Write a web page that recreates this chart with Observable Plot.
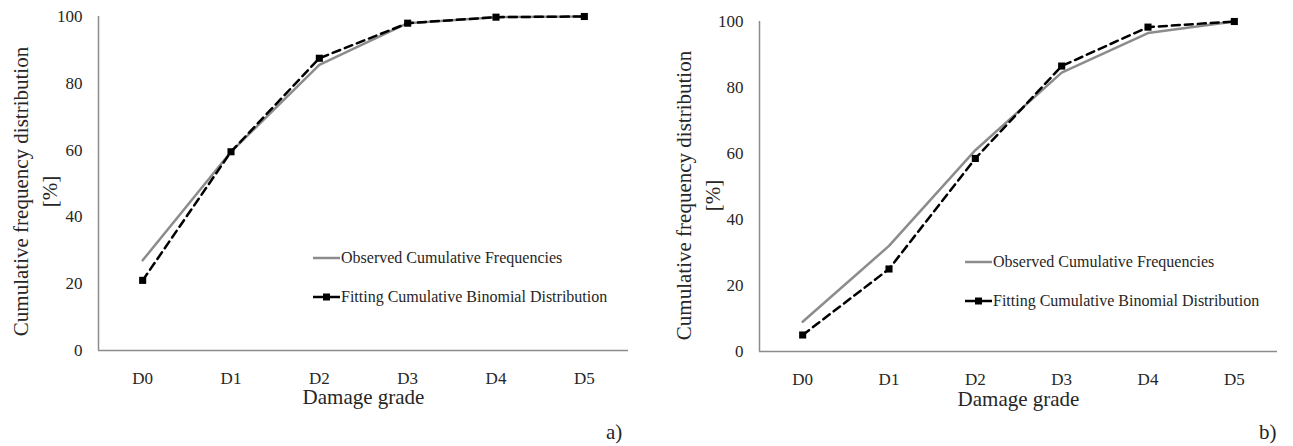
<!DOCTYPE html>
<html><head><meta charset="utf-8">
<script src="https://cdn.jsdelivr.net/npm/d3@7"></script>
<script src="https://cdn.jsdelivr.net/npm/@observablehq/plot@0.6"></script>
<style>
body{margin:0;background:#fff;}
#wrap{position:relative;width:1293px;height:446px;font-family:"Times New Roman","Liberation Serif","DejaVu Serif",serif;color:#262626;overflow:hidden;}
.panel{position:absolute;top:0;}
.leg{position:absolute;font-size:16px;white-space:nowrap;display:flex;align-items:center;height:20px;line-height:20px;}
.leg svg{margin-right:1px;}
.lbl{position:absolute;font-size:21px;line-height:21px;}
</style></head><body><div id="wrap"></div>
<script>
const grades = ["D0","D1","D2","D3","D4","D5"];
const observedA = [27, 59.5, 85.5, 98, 99.8, 100];
const fittingA  = [21, 59.5, 87.5, 98, 99.8, 100];
const observedB = [9, 32, 61, 84.5, 96.5, 100];
const fittingB  = [5, 25, 58.5, 86.5, 98.3, 100];
const yTicks = [0, 20, 40, 60, 80, 100];
const seriesNames = ["Observed Cumulative Frequencies", "Fitting Cumulative Binomial Distribution"];
const panelLabels = ["a)", "b)"];
const yTitle = "Cumulative frequency distribution\n[%]";
const xTitle = "Damage grade";

const wrap = document.getElementById("wrap");
const GRAY = "#8c8c8c";
const FONT = '"Times New Roman","Liberation Serif","DejaVu Serif",serif';

function makePanel(obs, fit, c) {
  const obsData = grades.map((g, i) => ({i, v: obs[i]}));
  const fitData = grades.map((g, i) => ({i, v: fit[i]}));
  const p = Plot.plot({
    width: c.width, height: 446,
    marginLeft: c.ml, marginRight: c.mr, marginTop: c.mt, marginBottom: c.mb,
    style: {fontFamily: FONT, fontSize: "17px", color: "#262626", background: "transparent", overflow: "visible"},
    x: {type: "linear", domain: [-0.5, 5.5], ticks: d3.range(6), tickFormat: i => grades[i], tickSize: 0, tickPadding: 21, label: null},
    y: {domain: [0, 100], ticks: yTicks, tickSize: 0, tickPadding: 16, label: null},
    marks: [
      Plot.ruleY([0], {stroke: GRAY, strokeWidth: 1.5}),
      Plot.ruleX([-0.5], {stroke: GRAY, strokeWidth: 1.5}),
      Plot.line(obsData, {x: "i", y: "v", stroke: GRAY, strokeWidth: 2.5}),
      Plot.line(fitData, {x: "i", y: "v", stroke: "#000", strokeWidth: 2.5, strokeDasharray: "8,5"}),
      Plot.dot(fitData, {x: "i", y: "v", symbol: "square", r: 4, fill: "#000"}),
      Plot.text([yTitle], {frameAnchor: "left", rotate: -90, dx: c.tdx, dy: c.tdy, fontSize: 21, lineHeight: 1.35, lineAnchor: "middle", textAnchor: "middle"}),
      Plot.text([xTitle], {frameAnchor: "bottom", dy: c.xdy, fontSize: 21, lineAnchor: "middle"})
    ]
  });
  const d = document.createElement("div");
  d.className = "panel";
  d.style.left = c.left + "px";
  d.appendChild(p);
  wrap.appendChild(d);

  seriesNames.forEach((name, k) => {
    const row = document.createElement("div");
    row.className = "leg";
    row.style.left = c.legX + "px";
    row.style.top = (c.legY[k] - 10) + "px";
    const dashed = k === 1;
    row.innerHTML = `<svg width="27" height="20"><line x1="0" x2="27" y1="10" y2="10" stroke="${dashed ? "#000" : GRAY}" stroke-width="2.5"/>${dashed ? '<rect x="10" y="6.5" width="7" height="7" fill="#000"/>' : ''}</svg><span>${name}</span>`;
    wrap.appendChild(row);
  });
  const l = document.createElement("div");
  l.className = "lbl";
  l.textContent = c.label;
  l.style.left = c.lblX + "px";
  l.style.top = "422px";
  wrap.appendChild(l);
}

makePanel(observedA, fittingA, {left: 0, width: 646, ml: 98, mr: 18, mt: 16, mb: 96, tdx: -65, tdy: 8, xdy: 47,
  legX: 313, legY: [258, 297], label: panelLabels[0], lblX: 606});
makePanel(observedB, fittingB, {left: 646, width: 647, ml: 113, mr: 16, mt: 21, mb: 95, tdx: -63, tdy: 9, xdy: 48,
  legX: 965, legY: [262, 301], label: panelLabels[1], lblX: 1259});
</script></body></html>
